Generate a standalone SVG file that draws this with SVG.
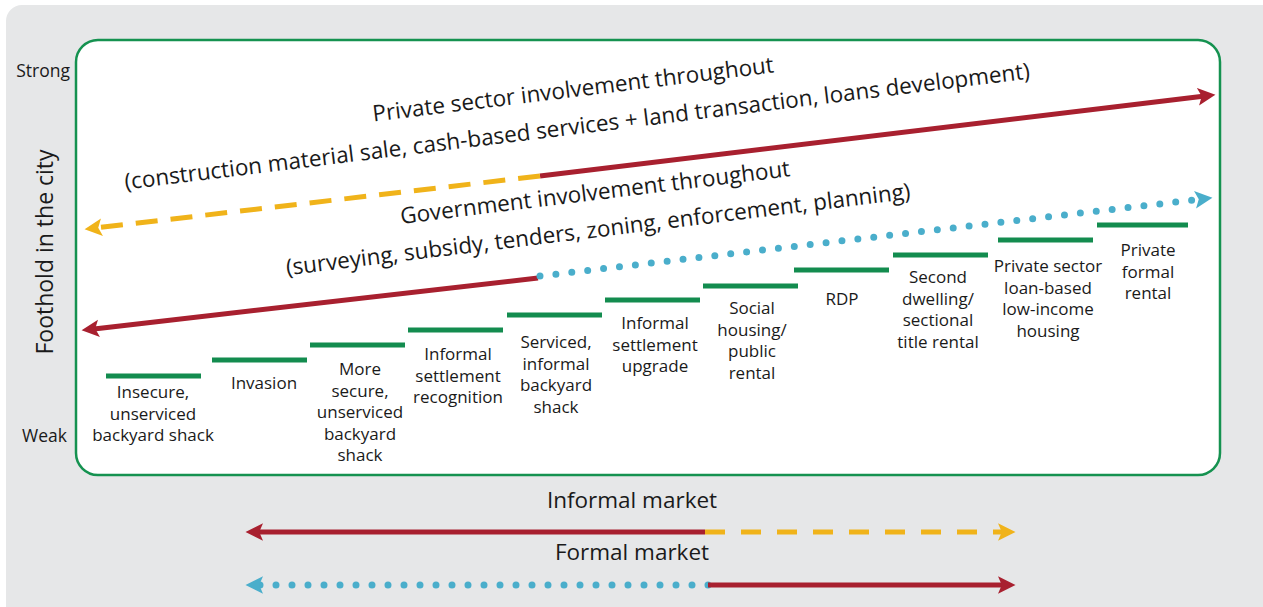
<svg xmlns="http://www.w3.org/2000/svg" width="1263" height="607" viewBox="0 0 1263 607">
<defs>
<style>
text{font-family:"Open Sans","Noto Sans","DejaVu Sans",sans-serif;fill:#1a1a1a}
.lbl{font-size:17px;text-anchor:middle}
.big{font-size:22.5px;text-anchor:middle}
.axis{font-size:17.5px;text-anchor:end}
.mkt{font-size:22.5px;text-anchor:middle}
.bar{stroke:#138c4f;stroke-width:5}
.red{stroke:#a8202f;stroke-width:5;fill:none}
.yel{stroke:#f0b31a;stroke-width:5;fill:none;stroke-dasharray:22 13}
.yelb{stroke:#f0b31a;stroke-width:5;fill:none;stroke-dasharray:20 16}
.blu{stroke:#4aaecb;stroke-width:7;fill:none;stroke-dasharray:0 16;stroke-linecap:round}
</style>
<marker id="ahR" markerUnits="userSpaceOnUse" markerWidth="20" markerHeight="20" viewBox="0 0 16 16" refX="4" refY="8" orient="auto"><path d="M0,1 L14,8 L0,15 L3,8 z" fill="#a8202f"/></marker>
<marker id="ahY" markerUnits="userSpaceOnUse" markerWidth="20" markerHeight="20" viewBox="0 0 16 16" refX="4" refY="8" orient="auto"><path d="M0,1 L14,8 L0,15 L3,8 z" fill="#f0b31a"/></marker>
<marker id="ahB" markerUnits="userSpaceOnUse" markerWidth="20" markerHeight="20" viewBox="0 0 16 16" refX="4" refY="8" orient="auto"><path d="M0,1 L14,8 L0,15 L3,8 z" fill="#4aaecb"/></marker>
</defs>
<rect x="6" y="5" width="1280" height="620" rx="16" fill="#e6e7e8"/>
<rect id="frame" x="76" y="40" width="1144" height="435" rx="22" fill="#ffffff" stroke="#159250" stroke-width="2.5"/>
<g id="axis">
<text class="axis" x="70" y="77">Strong</text>
<text class="axis" x="67" y="442">Weak</text>
<text x="0" y="0" font-size="23" text-anchor="middle" transform="translate(53,252) rotate(-90)">Foothold in the city</text>
</g>
<g id="connectors">
<line class="red" x1="540" y1="176" x2="1203" y2="96.2" marker-end="url(#ahR)"/>
<line class="yel" x1="540" y1="176" x2="97" y2="227.8" marker-end="url(#ahY)"/>
<line class="red" x1="538" y1="278" x2="94" y2="328.9" marker-end="url(#ahR)"/>
<line class="blu" x1="540" y1="276" x2="1200" y2="199.2" marker-end="url(#ahB)"/>
<line class="red" x1="705" y1="532" x2="258" y2="532" marker-end="url(#ahR)"/>
<line class="yelb" x1="705" y1="532" x2="1003" y2="532" marker-end="url(#ahY)"/>
<line class="blu" x1="708" y1="585" x2="258" y2="585" marker-end="url(#ahB)"/>
<line class="red" x1="708" y1="585" x2="1003" y2="585" marker-end="url(#ahR)"/>
</g>
<g id="private-sector-label">
<text class="big" transform="translate(574,97) rotate(-7)">Private sector involvement throughout</text>
<text class="big" transform="translate(578,134) rotate(-7)">(construction material sale, cash-based services + land transaction, loans development)</text>
</g>
<g id="government-label">
<text class="big" transform="translate(596,200) rotate(-7)">Government involvement throughout</text>
<text class="big" transform="translate(599,237) rotate(-7)">(surveying, subsidy, tenders, zoning, enforcement, planning)</text>
</g>
<g id="market-labels">
<text class="mkt" x="632" y="508">Informal market</text>
<text class="mkt" x="632" y="560">Formal market</text>
</g>
<g id="step1"><line class="bar" x1="106" y1="376" x2="201" y2="376"/><text class="lbl" x="153"><tspan x="153" y="398">Insecure,</tspan><tspan x="153" y="419.5">unserviced</tspan><tspan x="153" y="441">backyard shack</tspan></text></g>
<g id="step2"><line class="bar" x1="212" y1="360" x2="307" y2="360"/><text class="lbl" x="264" y="389">Invasion</text></g>
<g id="step3"><line class="bar" x1="310" y1="345" x2="405" y2="345"/><text class="lbl"><tspan x="360" y="375">More</tspan><tspan x="360" y="396.5">secure,</tspan><tspan x="360" y="418">unserviced</tspan><tspan x="360" y="439.5">backyard</tspan><tspan x="360" y="461">shack</tspan></text></g>
<g id="step4"><line class="bar" x1="408" y1="330" x2="503" y2="330"/><text class="lbl"><tspan x="458" y="360">Informal</tspan><tspan x="458" y="381.5">settlement</tspan><tspan x="458" y="403">recognition</tspan></text></g>
<g id="step5"><line class="bar" x1="507" y1="315" x2="602" y2="315"/><text class="lbl"><tspan x="556" y="348">Serviced,</tspan><tspan x="556" y="369.5">informal</tspan><tspan x="556" y="391">backyard</tspan><tspan x="556" y="412.5">shack</tspan></text></g>
<g id="step6"><line class="bar" x1="605" y1="300" x2="700" y2="300"/><text class="lbl"><tspan x="655" y="329">Informal</tspan><tspan x="655" y="350.5">settlement</tspan><tspan x="655" y="372">upgrade</tspan></text></g>
<g id="step7"><line class="bar" x1="703" y1="286" x2="798" y2="286"/><text class="lbl"><tspan x="752" y="314">Social</tspan><tspan x="752" y="335.5">housing/</tspan><tspan x="752" y="357">public</tspan><tspan x="752" y="378.5">rental</tspan></text></g>
<g id="step8"><line class="bar" x1="794" y1="270" x2="889" y2="270"/><text class="lbl" x="842" y="305">RDP</text></g>
<g id="step9"><line class="bar" x1="893" y1="255" x2="988" y2="255"/><text class="lbl"><tspan x="938" y="283">Second</tspan><tspan x="938" y="304.5">dwelling/</tspan><tspan x="938" y="326">sectional</tspan><tspan x="938" y="347.5">title rental</tspan></text></g>
<g id="step10"><line class="bar" x1="998" y1="240" x2="1093" y2="240"/><text class="lbl"><tspan x="1048" y="272">Private sector</tspan><tspan x="1048" y="293.5">loan-based</tspan><tspan x="1048" y="315">low-income</tspan><tspan x="1048" y="336.5">housing</tspan></text></g>
<g id="step11"><line class="bar" x1="1097" y1="225" x2="1188" y2="225"/><text class="lbl"><tspan x="1148" y="256">Private</tspan><tspan x="1148" y="277.5">formal</tspan><tspan x="1148" y="299">rental</tspan></text></g>
</svg>
